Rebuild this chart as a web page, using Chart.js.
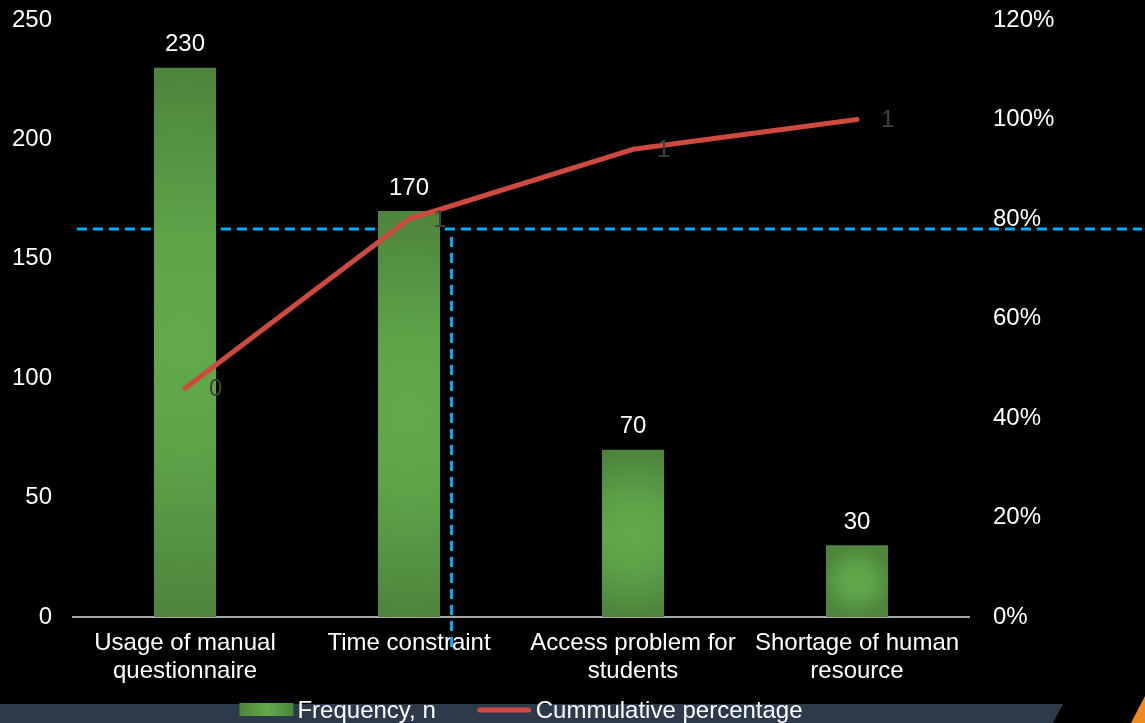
<!DOCTYPE html>
<html>
<head>
<meta charset="utf-8">
<script src="https://cdn.jsdelivr.net/npm/chart.js@4.4.1/dist/chart.umd.min.js"></script>
<style>
  html, body { margin: 0; background: #000; }
  #wrap { width: 1145px; height: 723px; position: relative; }
</style>
</head>
<body>
<div id="wrap"><canvas id="pareto"></canvas></div>
<script>
const categories = [
  ["Usage of manual", "questionnaire"],
  "Time constraint",
  ["Access problem for", "students"],
  ["Shortage of human", "resource"]
];
const frequency = [230, 170, 70, 30];
const cumulative = [0.46, 0.80, 0.94, 1.00];
const countTicks = [0, 50, 100, 150, 200, 250];
const percentTicks = [0, 0.2, 0.4, 0.6, 0.8, 1.0, 1.2];

// 80/20 cut-off guides (share on the right axis, position on the category axis)
const cutoffShare = 0.78;
const cutoffCategory = 1.19;

const FONT = "'Liberation Sans', Arial, sans-serif";
Chart.defaults.font.family = FONT;
Chart.defaults.font.size = 24;
Chart.defaults.color = "#fff";

// bars get a soft radial highlight in the middle
function barFill(ctx) {
  const chart = ctx.chart;
  if (!chart.chartArea || ctx.type !== "data") return "#58983f";
  const x = chart.scales.x, y = chart.scales.y;
  const cx = x.getPixelForValue(ctx.dataIndex);
  const top = y.getPixelForValue(ctx.raw);
  const base = y.getPixelForValue(0);
  const cy = (top + base) / 2;
  const r = Math.max((base - top) / 2, 36);
  const g = chart.ctx.createRadialGradient(cx, cy, 0, cx, cy, r);
  g.addColorStop(0, "#62aa4c");
  g.addColorStop(0.4, "#5da348");
  g.addColorStop(1, "#4e843c");
  return g;
}

// fixed axis sizes so the plot area sits where it should
function fixWidth(w) {
  return axis => {
    axis.width = w;
    axis.paddingTop = 0;
    axis.paddingBottom = 0;
  };
}

const paretoDecor = {
  id: "paretoDecor",
  beforeDraw(chart) {
    const { ctx, width: w, height: h } = chart;
    ctx.save();
    // slate strip along the bottom
    ctx.fillStyle = "#2d3a4b";
    ctx.beginPath();
    ctx.moveTo(0, h - 19);
    ctx.lineTo(w - 82, h - 19);
    ctx.lineTo(w - 92, h);
    ctx.lineTo(0, h);
    ctx.closePath();
    ctx.fill();
    // orange corner
    ctx.fillStyle = "#ee8a22";
    ctx.beginPath();
    ctx.moveTo(w - 14, h);
    ctx.lineTo(w, h - 27);
    ctx.lineTo(w, h);
    ctx.closePath();
    ctx.fill();
    ctx.restore();
  },
  beforeDatasetsDraw(chart) {
    const { ctx, chartArea } = chart;
    const yc = chart.scales.y1.getPixelForValue(cutoffShare);
    ctx.save();
    ctx.strokeStyle = "#00b0f0";
    ctx.lineWidth = 3;
    ctx.setLineDash([10, 6]);
    ctx.beginPath();
    ctx.moveTo(chartArea.left + 4, yc);
    ctx.lineTo(chart.width - 3, yc);
    ctx.stroke();
    ctx.restore();
  },
  afterDatasetsDraw(chart) {
    const { ctx } = chart;
    ctx.save();
    ctx.font = "24px " + FONT;
    chart.data.datasets.forEach((ds, i) => {
      const meta = chart.getDatasetMeta(i);
      meta.data.forEach((el, j) => {
        const v = ds.data[j];
        if (ds.type === "line") {
          ctx.fillStyle = "#404040";
          ctx.textAlign = "left";
          ctx.textBaseline = "middle";
          ctx.fillText(v.toFixed(0), el.x + 24, el.y + 1);
        } else {
          ctx.fillStyle = "#fff";
          ctx.textAlign = "center";
          ctx.textBaseline = "middle";
          ctx.fillText(String(v), el.x, el.y - 23);
        }
      });
    });
    ctx.restore();
  },
  afterDraw(chart) {
    const { ctx, chartArea } = chart;
    const xc = chart.scales.x.getPixelForValue(cutoffCategory);
    const yc = chart.scales.y1.getPixelForValue(cutoffShare);
    ctx.save();
    ctx.strokeStyle = "#00b0f0";
    ctx.lineWidth = 3;
    ctx.setLineDash([10, 6]);
    ctx.beginPath();
    ctx.moveTo(xc, yc + 8);
    ctx.lineTo(xc, chartArea.bottom + 33);
    ctx.stroke();
    ctx.restore();

    // legend, centred under the plot area
    const bar = chart.data.datasets[1], line = chart.data.datasets[0];
    ctx.save();
    ctx.font = "24px " + FONT;
    ctx.textBaseline = "middle";
    ctx.textAlign = "left";
    const ly = chart.height - 12;
    const w1 = ctx.measureText(bar.label).width;
    const w2 = ctx.measureText(line.label).width;
    const total = 54 + 4 + w1 + 42 + 53 + 5 + w2;
    let lx = (chartArea.left + chartArea.right) / 2 - total / 2;
    const g = ctx.createLinearGradient(lx, 0, lx + 54, 0);
    g.addColorStop(0, "#4e843c");
    g.addColorStop(0.5, "#62aa4c");
    g.addColorStop(1, "#4e843c");
    ctx.fillStyle = g;
    ctx.fillRect(lx, ly - 8, 54, 13);
    lx += 58;
    ctx.fillStyle = "#fff";
    ctx.fillText(bar.label, lx, ly);
    lx += w1 + 42;
    ctx.strokeStyle = line.borderColor;
    ctx.lineWidth = 5;
    ctx.lineCap = "round";
    ctx.beginPath();
    ctx.moveTo(lx + 2, ly - 1);
    ctx.lineTo(lx + 51, ly - 1);
    ctx.stroke();
    lx += 58;
    ctx.fillText(line.label, lx, ly);
    ctx.restore();
  }
};

new Chart(document.getElementById("pareto"), {
  data: {
    labels: categories,
    datasets: [
      {
        type: "line",
        label: "Cummulative percentage",
        data: cumulative,
        yAxisID: "y1",
        borderColor: "#cf4a3e",
        borderWidth: 5,
        borderCapStyle: "round",
        borderJoinStyle: "round",
        pointRadius: 0,
        tension: 0
      },
      {
        type: "bar",
        label: "Frequency, n",
        data: frequency,
        yAxisID: "y",
        backgroundColor: barFill,
        categoryPercentage: 1,
        barPercentage: 0.277
      }
    ]
  },
  options: {
    responsive: true,
    maintainAspectRatio: false,
    animation: false,
    layout: { padding: { left: 13, right: 91, top: 20, bottom: 38 } },
    plugins: {
      legend: { display: false },
      tooltip: { enabled: false }
    },
    scales: {
      x: {
        grid: { display: false, drawTicks: false },
        border: { color: "#a6a6a6", width: 2 },
        ticks: { padding: 12, maxRotation: 0, font: { size: 24, lineHeight: 1.17 } },
        afterFit: axis => { axis.height = 68; }
      },
      y: {
        position: "left",
        min: 0,
        max: 250,
        afterBuildTicks: axis => { axis.ticks = countTicks.map(v => ({ value: v })); },
        grid: { display: false, drawTicks: false },
        border: { display: false },
        ticks: { padding: 21 },
        afterFit: fixWidth(60)
      },
      y1: {
        position: "right",
        min: 0,
        max: 1.2,
        afterBuildTicks: axis => { axis.ticks = percentTicks.map(v => ({ value: v })); },
        grid: { display: false, drawTicks: false },
        border: { display: false },
        ticks: { padding: 24, callback: v => Math.round(v * 100) + "%" },
        afterFit: fixWidth(85)
      }
    }
  },
  plugins: [paretoDecor]
});
</script>
</body>
</html>
